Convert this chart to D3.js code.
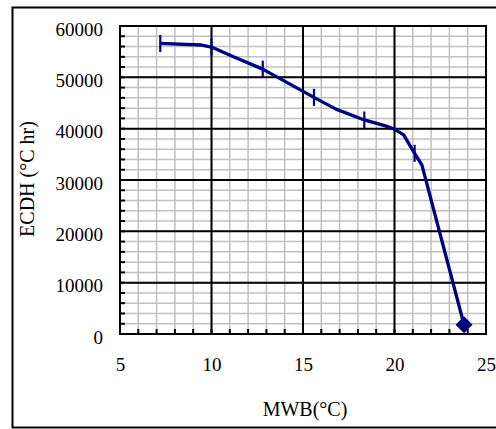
<!DOCTYPE html>
<html>
<head>
<meta charset="utf-8">
<script src="https://cdn.jsdelivr.net/npm/d3@7"></script>
<style>
  html, body { margin: 0; padding: 0; background: #fff; }
  svg { display: block; }
  text { font-family: "Liberation Serif", "Times New Roman", serif; fill: #000; }
</style>
</head>
<body>
<svg id="chart" width="496" height="429"></svg>
<script>
// Data
const lineMWB  = [7.2, 9.4, 10.0, 11.2, 12.8, 15.6, 16.8, 18.35, 19.55, 20.0, 20.5, 21.1, 21.5, 23.8];
const lineECDH = [56600, 56300, 55900, 54000, 51600, 46100, 43800, 41700, 40500, 39900, 38800, 35200, 32900, 1800];
const markerMWB  = [7.2, 10.0, 12.8, 15.6, 18.35, 21.1];
const markerECDH = [56600, 55900, 51600, 46100, 41700, 35200];
const endMWB = [23.8];
const endECDH = [1800];
const xTicks = [5, 10, 15, 20, 25];
const yTicks = [0, 10000, 20000, 30000, 40000, 50000, 60000];
const xMinor = d3.range(5, 25.001, 1);
const yMinor = d3.range(0, 60001, 2000);

const svg = d3.select("#chart");
const m = { left: 120, top: 26, right: 486, bottom: 334 };

// outer frame (right side extends beyond window)
svg.append("rect")
  .attr("x", 12.5).attr("y", 7.5)
  .attr("width", 500).attr("height", 420)
  .attr("fill", "#fff").attr("stroke", "#000").attr("stroke-width", 2);

const x = d3.scaleLinear().domain([5, 25]).range([m.left, m.right]);
const y = d3.scaleLinear().domain([0, 60000]).range([m.bottom, m.top]);

const g = svg.append("g");

// minor grid
g.append("g").selectAll("line").data(xMinor).join("line")
  .attr("x1", d => x(d)).attr("x2", d => x(d))
  .attr("y1", m.top).attr("y2", m.bottom)
  .attr("stroke", "#c0c0c0").attr("stroke-width", 1.5);
g.append("g").selectAll("line").data(yMinor).join("line")
  .attr("y1", d => y(d)).attr("y2", d => y(d))
  .attr("x1", m.left).attr("x2", m.right)
  .attr("stroke", "#c0c0c0").attr("stroke-width", 1.5);

// major grid
g.append("g").selectAll("line").data(xTicks).join("line")
  .attr("x1", d => x(d)).attr("x2", d => x(d))
  .attr("y1", m.top).attr("y2", m.bottom)
  .attr("stroke", "#000").attr("stroke-width", 2);
g.append("g").selectAll("line").data(yTicks).join("line")
  .attr("y1", d => y(d)).attr("y2", d => y(d))
  .attr("x1", m.left).attr("x2", m.right)
  .attr("stroke", "#000").attr("stroke-width", 2);

// minor tick marks inside the axes
g.append("g").selectAll("line").data(yMinor).join("line")
  .attr("y1", d => y(d)).attr("y2", d => y(d))
  .attr("x1", m.left).attr("x2", m.left + 5)
  .attr("stroke", "#000").attr("stroke-width", 2);
g.append("g").selectAll("line").data(xMinor).join("line")
  .attr("x1", d => x(d)).attr("x2", d => x(d))
  .attr("y1", m.bottom).attr("y2", m.bottom - 5)
  .attr("stroke", "#000").attr("stroke-width", 2);

// plot border
g.append("rect")
  .attr("x", m.left).attr("y", m.top)
  .attr("width", m.right - m.left).attr("height", m.bottom - m.top)
  .attr("fill", "none").attr("stroke", "#000").attr("stroke-width", 2);

// tick labels via d3 axes (no tick lines)
const yAxis = d3.axisLeft(y).tickValues(yTicks).tickSize(0).tickPadding(17).tickFormat(d3.format("d"));
const yg = svg.append("g").attr("transform", `translate(${m.left},3)`).call(yAxis);
yg.attr("font-family", null);
yg.select(".domain").remove();
yg.selectAll("text").style("font-family", "'Liberation Serif', serif").style("font-size", "19px");

const xAxis = d3.axisBottom(x).tickValues(xTicks).tickSize(0).tickPadding(24).tickFormat(d3.format("d"));
const xg = svg.append("g").attr("transform", `translate(0,${m.bottom})`).call(xAxis);
xg.attr("font-family", null);
xg.select(".domain").remove();
xg.selectAll("text").style("font-family", "'Liberation Serif', serif").style("font-size", "19px");

// series line
const pts = lineMWB.map((v, i) => [v, lineECDH[i]]);
svg.append("path")
  .datum(pts)
  .attr("d", d3.line().x(d => x(d[0])).y(d => y(d[1])).curve(d3.curveLinear))
  .attr("fill", "none").attr("stroke", "#000080").attr("stroke-width", 3.3)
  .attr("stroke-linejoin", "round");

// dash markers
svg.append("g").selectAll("line").data(markerMWB.map((v, i) => [v, markerECDH[i]])).join("line")
  .attr("x1", d => x(d[0])).attr("x2", d => x(d[0]))
  .attr("y1", d => y(d[1]) - 8.5).attr("y2", d => y(d[1]) + 8.5)
  .attr("stroke", "#000080").attr("stroke-width", 2.2);

// diamond at end
svg.append("g").selectAll("path").data(endMWB.map((v, i) => [v, endECDH[i]])).join("path")
  .attr("transform", d => `translate(${x(d[0])},${y(d[1])})`)
  .attr("d", "M0,-8.5L8.5,0L0,8.5L-8.5,0Z")
  .attr("fill", "#000080");

// axis titles
svg.append("text")
  .attr("x", 305).attr("y", 416)
  .attr("text-anchor", "middle")
  .style("font-size", "20px")
  .text("MWB(°C)");
svg.append("text")
  .attr("transform", "translate(34,179) rotate(-90)")
  .attr("text-anchor", "middle")
  .style("font-size", "20px")
  .text("ECDH (°C hr)");
</script>
</body>
</html>
